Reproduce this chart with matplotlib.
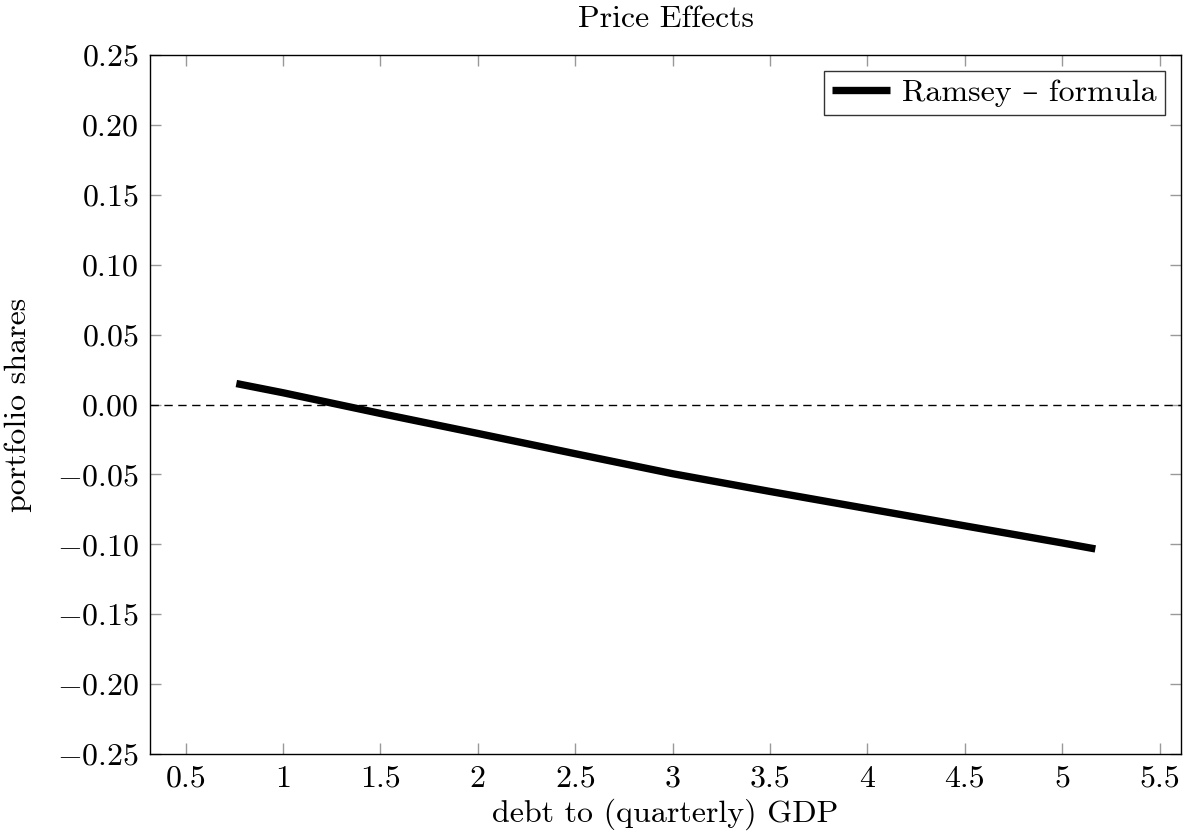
import matplotlib
matplotlib.use("Agg")
import matplotlib.pyplot as plt

# values
debt_gdp = [0.76, 1.0, 1.5, 2.0, 2.5, 3.0, 3.5, 4.0, 4.5, 5.0, 5.17]
shares = [0.015, 0.0084, -0.0064, -0.0207, -0.0352, -0.0495, -0.0622, -0.0745, -0.0868, -0.0990, -0.1033]
xticks = [0.5, 1, 1.5, 2, 2.5, 3, 3.5, 4, 4.5, 5, 5.5]
yticks = [-0.25, -0.2, -0.15, -0.1, -0.05, 0.0, 0.05, 0.1, 0.15, 0.2, 0.25]

plt.rcParams.update({
    "font.family": ["cmr10", "DejaVu Serif"],
    "mathtext.fontset": "cm",
    "axes.formatter.use_mathtext": True,
    "font.size": 23,
})

fig = plt.figure(figsize=(11.89, 8.38), dpi=100)
ax = fig.add_axes([0.1262, 0.1002, 0.8671, 0.8342])

ax.axhline(0, color="black", lw=1.0, ls=(0, (6, 4)))
ax.plot(debt_gdp, shares, color="black", lw=5.3, solid_capstyle="butt",
        solid_joinstyle="round", label="Ramsey – formula")

ax.set_xlim(0.317, 5.61)
ax.set_ylim(-0.25, 0.25)
ax.set_xticks(xticks)
ax.set_xticklabels([f"{t:g}" for t in xticks])
ax.set_yticks(yticks)
ax.set_yticklabels([f"${t:.2f}$" for t in yticks])
ax.tick_params(direction="in", length=8, width=1, color="#999999",
               top=True, right=True, labelsize=23, pad=8)
for s in ax.spines.values():
    s.set_linewidth(1.0)

ax.set_title("Price Effects", fontsize=23, pad=20)
ax.set_xlabel("debt to (quarterly) GDP", fontsize=23, labelpad=4)
ax.set_ylabel("portfolio shares", fontsize=23, labelpad=18)

leg = ax.legend(loc="upper right", fontsize=23, frameon=True, fancybox=False,
                handlelength=1.8, handletextpad=0.4, borderpad=0.25,
                borderaxespad=0.5)
leg.get_frame().set_edgecolor("black")
leg.get_frame().set_linewidth(1.0)

fig.savefig("out.png", dpi=100)
